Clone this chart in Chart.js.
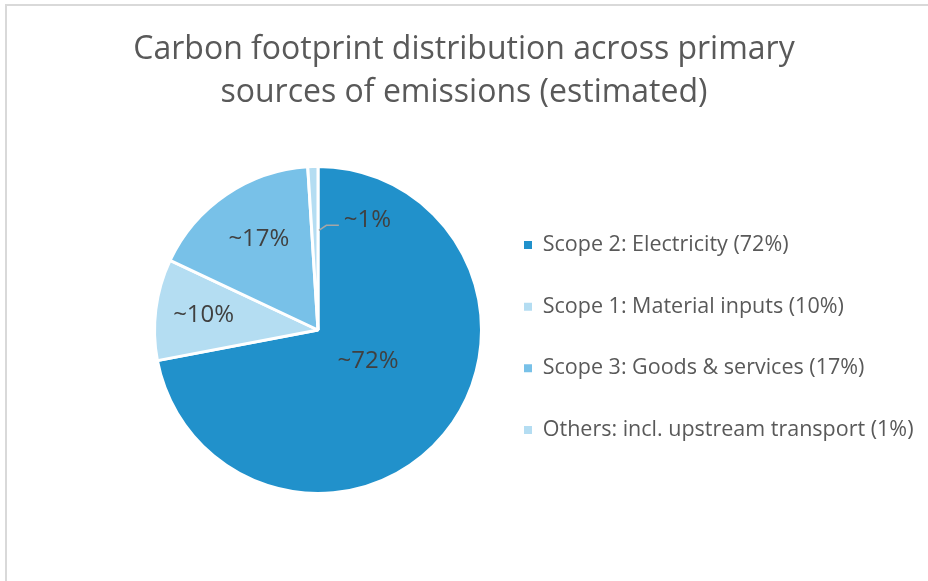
<!DOCTYPE html>
<html><head><meta charset="utf-8">
<script src="https://cdn.jsdelivr.net/npm/chart.js@4/dist/chart.umd.min.js"></script>
<style>
html,body{margin:0;padding:0;background:#fff;}
#wrap{position:relative;width:928px;height:581px;overflow:hidden;}
#frame{position:absolute;left:5px;top:4px;right:-10px;bottom:-10px;border-top:2px solid #D9D9D9;border-left:2px solid #D9D9D9;pointer-events:none;}
canvas{position:absolute;left:0;top:0;}
</style></head><body>
<div id="wrap"><canvas id="c" width="928" height="581"></canvas><div id="frame"></div></div>
<script>
// ---- data ----
const categories = ['Scope 2: Electricity (72%)', 'Scope 1: Material inputs (10%)', 'Scope 3: Goods & services (17%)', 'Others: incl. upstream transport (1%)'];
const shares = [72, 10, 17, 1];
const sliceLabels = ['~72%', '~10%', '~17%', '~1%'];
const titleLines = ['Carbon footprint distribution across primary', 'sources of emissions (estimated)'];

// ---- styles ----
const sliceColors = ['#2191CB', '#B4DDF2', '#78C1E8', '#B4DDF2'];
const LEG_FAMILY = "'Open Sans', sans-serif";
const LEG_SIZE = 21.5;
const LEG_PAD = 40.2;
const BOX_W = 8;
const LABEL_FONT = "24px 'Open Sans', sans-serif";
const labelStyle = [
  {r: 0.37, dx: 3.5, dy: -7.4},
  {r: 0.705, dx: 0, dy: 0},
  {r: 0.665, dx: 2, dy: -1},
  {r: 0.61, dx: 4, dy: 0, leader: true}
];

// layout helpers from font metrics
const mctx = document.createElement('canvas').getContext('2d');
mctx.font = `normal normal ${LEG_SIZE}px ${LEG_FAMILY}`;
const maxText = Math.max(...categories.map(t => mctx.measureText(t).width));
const legendW = LEG_PAD + BOX_W + LEG_SIZE / 2 + maxText + 10;
const CX = 318, BOX_LEFT = 524, W = 928;
const sidePad = W - legendW + LEG_PAD - BOX_LEFT;
const spacerW = legendW - (W - 2 * CX);

const labelPlugin = {
  id: 'sliceLabels',
  afterDatasetsDraw(chart) {
    const meta = chart.getDatasetMeta(0);
    const ctx = chart.ctx;
    ctx.save();
    ctx.font = LABEL_FONT;
    ctx.fillStyle = '#404040';
    ctx.textBaseline = 'middle';
    meta.data.forEach((arc, i) => {
      const p = arc.getProps(['x', 'y', 'startAngle', 'endAngle', 'outerRadius'], true);
      const mid = (p.startAngle + p.endAngle) / 2;
      const st = labelStyle[i];
      const r = p.outerRadius * st.r;
      const px = p.x + Math.cos(mid) * r + st.dx;
      const py = p.y + Math.sin(mid) * r + st.dy;
      if (st.leader) {
        ctx.strokeStyle = '#A6A6A6';
        ctx.lineWidth = 1.5;
        ctx.beginPath();
        ctx.moveTo(px, py);
        ctx.lineTo(px + 7.5, py - 5);
        ctx.lineTo(px + 20, py - 5);
        ctx.stroke();
        ctx.textAlign = 'left';
        ctx.fillText(sliceLabels[i], px + 25, py - 10);
      } else {
        ctx.textAlign = 'center';
        ctx.fillText(sliceLabels[i], px, py);
      }
    });
    ctx.restore();
  }
};

new Chart(document.getElementById('c'), {
  type: 'pie',
  data: {
    labels: categories,
    datasets: [{
      data: shares,
      backgroundColor: sliceColors,
      borderColor: '#FFFFFF',
      borderWidth: 3,
      radius: 163.5
    }]
  },
  options: {
    responsive: false,
    animation: false,
    layout: {padding: {left: sidePad, right: sidePad, top: 0, bottom: 87}},
    plugins: {
      title: {
        display: true,
        text: titleLines,
        color: '#595959',
        font: {family: "'Open Sans', sans-serif", size: 32, weight: 'normal', lineHeight: '43px'},
        padding: {top: 28.5, bottom: 51.5}
      },
      subtitle: {
        display: true,
        text: ' ',
        position: 'left',
        fullSize: false,
        font: {size: 10, lineHeight: 1},
        padding: {top: spacerW - 10, bottom: 0}
      },
      legend: {
        position: 'right',
        fullSize: false,
        maxWidth: 800,
        title: {display: true, text: ' ', font: {size: 15, lineHeight: 1}, padding: 0},
        labels: {
          boxWidth: BOX_W,
          boxHeight: BOX_W,
          padding: LEG_PAD,
          color: '#595959',
          font: {family: LEG_FAMILY, size: LEG_SIZE},
          generateLabels(chart) {
            return Chart.overrides.pie.plugins.legend.labels.generateLabels(chart)
              .map(item => Object.assign(item, {lineWidth: 0, strokeStyle: item.fillStyle}));
          }
        }
      },
      tooltip: {enabled: false}
    }
  },
  plugins: [labelPlugin]
});
</script>
</body></html>
